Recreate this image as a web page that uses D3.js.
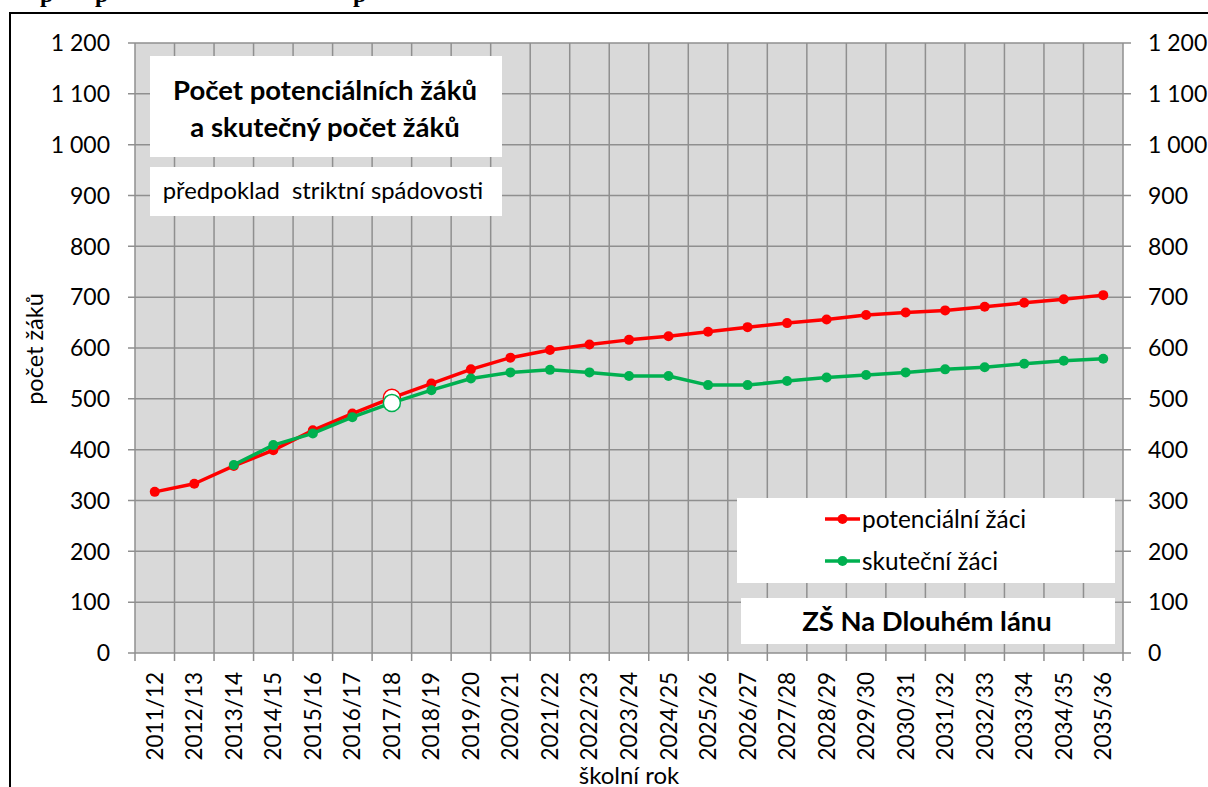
<!DOCTYPE html>
<html>
<head>
<meta charset="utf-8">
<script src="https://cdn.jsdelivr.net/npm/d3@7"></script>
<style>
  html, body { margin: 0; padding: 0; background: #fff; }
  svg { display: block; }
  text { font-family: Lato, "Open Sans", sans-serif; fill: #000; }
</style>
</head>
<body>
<svg id="chart" width="1208" height="787"></svg>
<script>
// School years (x categories)
const categories = [
  "2011/12", "2012/13", "2013/14", "2014/15", "2015/16", "2016/17", "2017/18",
  "2018/19", "2019/20", "2020/21", "2021/22", "2022/23", "2023/24", "2024/25",
  "2025/26", "2026/27", "2027/28", "2028/29", "2029/30", "2030/31", "2031/32",
  "2032/33", "2033/34", "2034/35", "2035/36"
];
// Potential pupils (strict catchment assumption)
const potencialniZaci = [
  317, 333, 368, 399, 438, 471, 502, 530, 558, 581, 596, 607, 616,
  623, 632, 641, 649, 656, 665, 670, 674, 681, 689, 696, 704
];
// Actual pupils
const skutecniZaci = [
  null, null, 370, 409, 432, 464, 492, 517, 540, 552, 557, 552, 545,
  545, 527, 527, 535, 542, 547, 552, 558, 562, 569, 575, 579
];
// Year whose point is shown as an open marker
const highlightYear = "2017/18";
// Y-axis ticks
const yTicks = [0, 100, 200, 300, 400, 500, 600, 700, 800, 900, 1000, 1100, 1200];

const seriesNames = ["potenciální žáci", "skuteční žáci"];
const seriesColors = ["#ff0000", "#00b050"];

const svg = d3.select("#chart");

// frame of the chart object
svg.append("rect")
  .attr("x", 10).attr("y", 13)
  .attr("width", 1240).attr("height", 820)
  .attr("fill", "#fff").attr("stroke", "#000").attr("stroke-width", 2);

// bottom fragments of the page heading above the chart
svg.append("g").selectAll("text")
  .data([{ x: 40, t: "p" }, { x: 95, t: "p" }, { x: 353, t: "p" }])
  .join("text")
  .attr("x", d => d.x).attr("y", 2)
  .style("font-family", "'Liberation Serif', serif")
  .style("font-weight", "bold")
  .style("font-size", "24px")
  .text(d => d.t);

const plot = { left: 135, right: 1123, top: 43, bottom: 653 };

const x = d3.scaleBand().domain(categories).range([plot.left, plot.right]).padding(0);
const y = d3.scaleLinear().domain([0, 1200]).range([plot.bottom, plot.top]);

// plot area background
svg.append("rect")
  .attr("x", plot.left).attr("y", plot.top)
  .attr("width", plot.right - plot.left).attr("height", plot.bottom - plot.top)
  .attr("fill", "#d9d9d9");

const gridColor = "#8f8f8f";
const grid = svg.append("g").attr("stroke", gridColor).attr("stroke-width", 1.5);

// horizontal gridlines with outer tick marks on both sides
grid.selectAll("line.h").data(yTicks).join("line")
  .attr("class", "h")
  .attr("x1", plot.left - 7).attr("x2", plot.right + 8)
  .attr("y1", d => y(d)).attr("y2", d => y(d));

// vertical gridlines at category boundaries with ticks below the axis
const boundaries = categories.map(c => x(c)).concat([x(categories[categories.length - 1]) + x.bandwidth()]);
grid.selectAll("line.v").data(boundaries).join("line")
  .attr("class", "v")
  .attr("x1", d => d).attr("x2", d => d)
  .attr("y1", plot.top).attr("y2", plot.bottom + 8);

// y axis labels, left and right
const yFmt = v => v >= 1000 ? d3.format(",")(v).replace(",", " ") : String(v);
const tickFont = "23px";
svg.append("g").selectAll("text").data(yTicks).join("text")
  .attr("x", 110).attr("y", d => y(d))
  .attr("dy", "0.36em")
  .attr("text-anchor", "end")
  .style("font-size", tickFont)
  .text(yFmt);
svg.append("g").selectAll("text").data(yTicks).join("text")
  .attr("x", 1148).attr("y", d => y(d))
  .attr("dy", "0.36em")
  .attr("text-anchor", "start")
  .style("font-size", tickFont)
  .text(yFmt);

// x axis category labels (vertical)
svg.append("g").selectAll("text").data(categories).join("text")
  .attr("transform", d => `translate(${x(d) + x.bandwidth() / 2 + 8},${plot.bottom + 19}) rotate(-90)`)
  .attr("text-anchor", "end")
  .style("font-size", "22.5px")
  .text(d => d);

// axis titles
svg.append("text")
  .attr("transform", `translate(43,349) rotate(-90)`)
  .attr("text-anchor", "middle")
  .style("font-size", "23.5px")
  .text("počet žáků");
svg.append("text")
  .attr("x", (plot.left + plot.right) / 2).attr("y", 784)
  .attr("text-anchor", "middle")
  .style("font-size", "24px")
  .text("školní rok");

// annotation boxes
function box(x0, y0, w, h) {
  svg.append("rect").attr("x", x0).attr("y", y0).attr("width", w).attr("height", h).attr("fill", "#fff");
}
box(150, 56, 352, 101);
svg.append("text").attr("x", 325).attr("y", 100).attr("text-anchor", "middle")
  .style("font-size", "27.5px").style("font-weight", "bold").text("Počet potenciálních žáků");
svg.append("text").attr("x", 325).attr("y", 137).attr("text-anchor", "middle")
  .style("font-size", "27.5px").style("font-weight", "bold").text("a skutečný počet žáků");

box(150, 167, 352, 49);
svg.append("text").attr("x", 323).attr("y", 199).attr("text-anchor", "middle")
  .style("font-size", "23.8px").style("white-space", "pre").text("předpoklad  striktní spádovosti");

box(737, 498, 378, 85);
box(741, 598, 374, 46);
svg.append("text").attr("x", 927).attr("y", 631).attr("text-anchor", "middle")
  .style("font-size", "27.4px").style("font-weight", "bold").text("ZŠ Na Dlouhém lánu");

// legend
const legendRows = [519, 561];
seriesNames.forEach((name, i) => {
  const g = svg.append("g");
  g.append("line").attr("x1", 825).attr("x2", 860).attr("y1", legendRows[i]).attr("y2", legendRows[i])
    .attr("stroke", seriesColors[i]).attr("stroke-width", 3.5);
  g.append("circle").attr("cx", 842.5).attr("cy", legendRows[i]).attr("r", 5).attr("fill", seriesColors[i]);
  g.append("text").attr("x", 862).attr("y", legendRows[i]).attr("dy", "0.36em")
    .style("font-size", "24.4px").text(name);
});

// data series
const allSeries = [potencialniZaci, skutecniZaci];
allSeries.forEach((vals, i) => {
  const pts = categories.map((c, j) => ({ c, v: vals[j] })).filter(d => d.v != null);
  const line = d3.line()
    .x(d => x(d.c) + x.bandwidth() / 2)
    .y(d => y(d.v));
  const g = svg.append("g");
  g.append("path").datum(pts).attr("d", line)
    .attr("fill", "none").attr("stroke", seriesColors[i])
    .attr("stroke-width", 3.5).attr("stroke-linejoin", "round");
  g.selectAll("circle").data(pts).join("circle")
    .attr("cx", d => x(d.c) + x.bandwidth() / 2)
    .attr("cy", d => y(d.v))
    .attr("r", d => d.c === highlightYear ? 8.5 : 5)
    .attr("fill", d => d.c === highlightYear ? "#fff" : seriesColors[i])
    .attr("stroke", d => d.c === highlightYear ? seriesColors[i] : "none")
    .attr("stroke-width", 1.5);
});
</script>
</body>
</html>
